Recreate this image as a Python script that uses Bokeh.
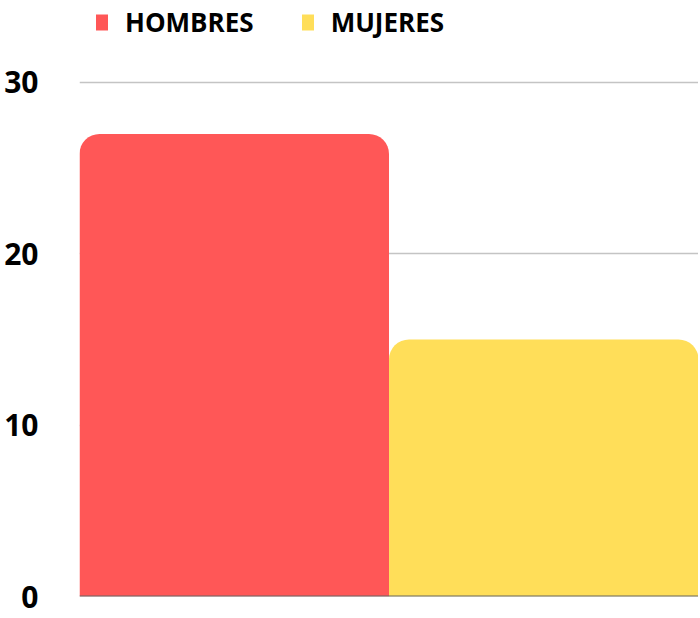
from bokeh.plotting import figure
from bokeh.models import Span, Legend, LegendItem, FixedTicker, Range1d
from bokeh.embed import file_html
from bokeh.resources import INLINE

series = ["HOMBRES", "MUJERES"]
values = [27, 15]
colors = ["#FF5757", "#FFDE59"]
y_ticks = [0, 10, 20, 30]

p = figure(width=698, height=616, output_backend="svg", toolbar_location=None,
           x_range=Range1d(0, 2), y_range=Range1d(0, 34.785),
           min_border_left=79, min_border_right=0, min_border_top=0, min_border_bottom=20)
p.outline_line_color = None
p.background_fill_color = "white"
p.border_fill_color = "white"

renderers = []
for i, (name, val, col) in enumerate(zip(series, values, colors)):
    r = p.vbar(x=[i + 0.5], top=[val], width=1.0, bottom=0,
               fill_color=col, line_color=None, border_radius=(20, 20, 0, 0))
    renderers.append((name, r))

p.xaxis.visible = False
p.xgrid.visible = False
p.ygrid.ticker = FixedTicker(ticks=[10, 20, 30])
p.ygrid.grid_line_color = "#c4c4c4"
p.ygrid.grid_line_width = 1.5

ya = p.yaxis[0]
ya.ticker = FixedTicker(ticks=y_ticks)
ya.axis_line_color = None
ya.major_tick_line_color = None
ya.minor_tick_line_color = None
ya.major_label_text_font = "Open Sans"
ya.major_label_text_font_style = "bold"
ya.major_label_text_font_size = "30px"
ya.major_label_text_color = "black"
ya.major_label_standoff = 35

base = Span(location=0, dimension="width", line_color="#666666", line_width=2, level="overlay")
p.add_layout(base)

legend = Legend(items=[LegendItem(label=n, renderers=[r]) for n, r in renderers],
                orientation="horizontal", location=(15, 556),
                padding=0, margin=0, spacing=46, label_standoff=16,
                glyph_width=15, glyph_height=20,
                border_line_color=None, background_fill_alpha=0,
                label_text_font="Open Sans", label_text_font_style="bold",
                label_text_font_size="26px", label_text_color="black")
p.add_layout(legend, "center")

open("out.html", "w").write(file_html(p, INLINE))
